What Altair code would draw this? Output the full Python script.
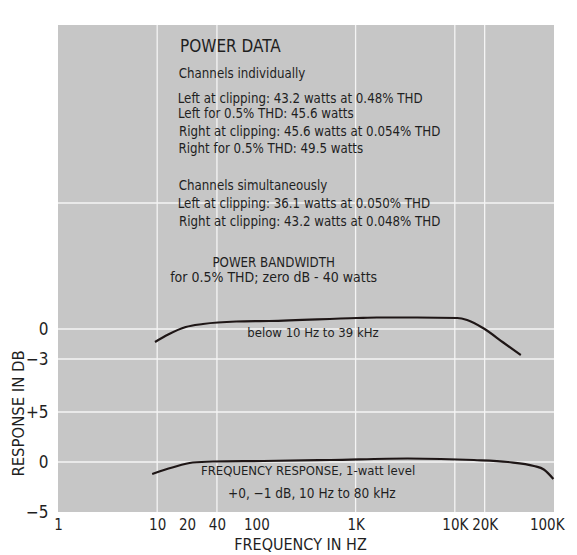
import altair as alt
import pandas as pd

# ---------------- data ----------------
# Power bandwidth curve (Hz, dB)
pb_freq = [9.5, 12.9, 19.4, 28.9, 62.5, 135, 1030, 1640, 4160, 10600, 13300, 19600, 30800, 46300]
pb_db = [-1.3, -0.55, 0.2, 0.5, 0.75, 0.8, 1.1, 1.15, 1.15, 1.1, 0.9, 0.05, -1.35, -2.6]

# Frequency response curve, 1-watt level (Hz, dB)
fr_freq = [8.9, 14.2, 22.8, 36.4, 117, 556, 3350, 15600, 34300, 62700, 78900, 98600]
fr_db = [-1.2, -0.55, -0.05, 0.05, 0.1, 0.2, 0.35, 0.2, 0.0, -0.4, -0.75, -1.7]

# The power-bandwidth panel sits above the response panel on a shared scale
PB_OFFSET = 13.3

x_tick_values = [1, 10, 20, 40, 100, 1000, 10000, 20000, 100000]
x_tick_labels = ["1", "10", "20", "40", "100", "1K", "10K", "20K", "100K"]
y_tick_values = [-5, 0, 5, PB_OFFSET - 3, PB_OFFSET]
y_tick_labels = ["\u22125", "0", "+5", "\u22123", "0"]

grid_freqs = [10, 40, 1000, 10000, 20000]
grid_levels = [0, 5, PB_OFFSET - 3, PB_OFFSET, 25.9]

ann_text = [
    "POWER DATA",
    "Channels individually",
    "Left at clipping: 43.2 watts at 0.48% THD",
    "Left for 0.5% THD: 45.6 watts",
    "Right at clipping: 45.6 watts at 0.054% THD",
    "Right for 0.5% THD: 49.5 watts",
    "Channels simultaneously",
    "Left at clipping: 36.1 watts at 0.050% THD",
    "Right at clipping: 43.2 watts at 0.048% THD",
    "POWER BANDWIDTH",
    "for 0.5% THD; zero dB - 40 watts",
    "below 10 Hz to 39 kHz",
    "FREQUENCY RESPONSE, 1-watt level",
    "+0, \u22121 dB, 10 Hz to 80 kHz",
]
ann_freq = [17.0, 16.5, 16.1, 16.2, 16.6, 16.4, 16.5, 16.1, 16.6, 36.0, 13.5, 81, 27.6, 51.7]
ann_pos = [41.5, 38.8, 36.3, 34.8, 33.0, 31.3, 27.6, 25.8, 24.05, 19.9, 18.45, 12.9, -0.9, -3.2]
ann_size = [17, 13.2, 13.2, 13.2, 13.2, 13.2, 13.2, 13.2, 13.2, 13.2, 14, 13, 13, 13.5]

# ---------------- tables ----------------
curves = pd.DataFrame(
    {
        "freq": pb_freq + fr_freq,
        "db": pb_db + fr_db,
        "series": ["Power bandwidth"] * len(pb_freq) + ["Frequency response"] * len(fr_freq),
    }
)
vgrid = pd.DataFrame({"freq": grid_freqs})
hgrid = pd.DataFrame({"pos": grid_levels})
ann = pd.DataFrame({"text": ann_text, "freq": ann_freq, "pos": ann_pos, "size": ann_size})

FONT = "'DejaVu Sans Condensed', 'Liberation Sans Narrow', 'Liberation Sans', sans-serif"
INK = "#1f1f1f"


def expr_map(values, labels):
    parts = [f"abs(datum.value - {v}) < 0.01 ? '{l}'" for v, l in zip(values, labels)]
    return " : ".join(parts) + " : ''"


x_scale = alt.Scale(type="log", domain=[1, 100000], nice=False)
y_scale = alt.Scale(domain=[-5, 43.7], nice=False, zero=False)

x_axis = alt.Axis(
    values=x_tick_values,
    labelExpr=expr_map(x_tick_values, x_tick_labels),
    grid=False, domain=False, ticks=False,
    labelFlush=False, labelOverlap=False, labelBound=False,
    labelFont=FONT, labelFontSize=15, labelColor=INK,
    labelBaseline="middle", labelPadding=12,
    labelAlign={"condition": {"test": "datum.value >= 100000", "value": "right"}, "value": "center"},
    labelOffset={"condition": {"test": "datum.value >= 100000", "value": 10}, "value": 0},
    title="FREQUENCY IN HZ", titleFont=FONT, titleFontSize=16,
    titleFontWeight="normal", titleColor=INK,
    titleX=242, titleY=37, titleBaseline="alphabetic", titleAlign="center",
)
y_axis = alt.Axis(
    values=y_tick_values,
    labelExpr=expr_map(y_tick_values, y_tick_labels),
    grid=False, domain=False, ticks=False,
    labelFlush=False, labelOverlap=False, labelBound=False,
    labelFont=FONT, labelFontSize=17, labelColor=INK, labelPadding=10,
    title="RESPONSE IN DB", titleFont=FONT, titleFontSize=16.5,
    titleFontWeight="normal", titleColor=INK,
    titleAngle=270, titleX=-40, titleY=388, titleBaseline="middle", titleAlign="center",
)

x_enc = alt.X("freq:Q", scale=x_scale, axis=x_axis)

vlines = alt.Chart(vgrid).mark_rule(color="#f4f4f4", strokeWidth=1.3).encode(x=x_enc)
hlines = alt.Chart(hgrid).mark_rule(color="#f4f4f4", strokeWidth=1.3).encode(
    y=alt.Y("pos:Q", scale=y_scale, axis=y_axis)
)

lines = (
    alt.Chart(curves)
    .transform_calculate(
        pos=f"datum.series == 'Power bandwidth' ? datum.db + {PB_OFFSET} : datum.db"
    )
    .mark_line(interpolate="monotone", color="#1e1616", strokeWidth=2.2)
    .encode(
        x=x_enc,
        y=alt.Y("pos:Q", scale=y_scale, axis=y_axis),
        detail="series:N",
    )
)

texts = (
    alt.Chart(ann)
    .mark_text(align="left", baseline="middle", font=FONT, color=INK)
    .encode(
        x=x_enc,
        y=alt.Y("pos:Q", scale=y_scale, axis=y_axis),
        text="text:N",
        size=alt.Size("size:Q", scale=None, legend=None),
    )
)

chart = (
    alt.layer(vlines, hlines, lines, texts)
    .properties(
        width=496,
        height=487,
        autosize=alt.AutoSizeParams(type="none"),
        padding={"left": 50, "top": 17, "right": 15, "bottom": 43},
        background="white",
    )
    .configure_view(fill="#c6c6c6", stroke=None)
)

chart.save("out.html", embed_options={"renderer": "svg", "actions": False})
